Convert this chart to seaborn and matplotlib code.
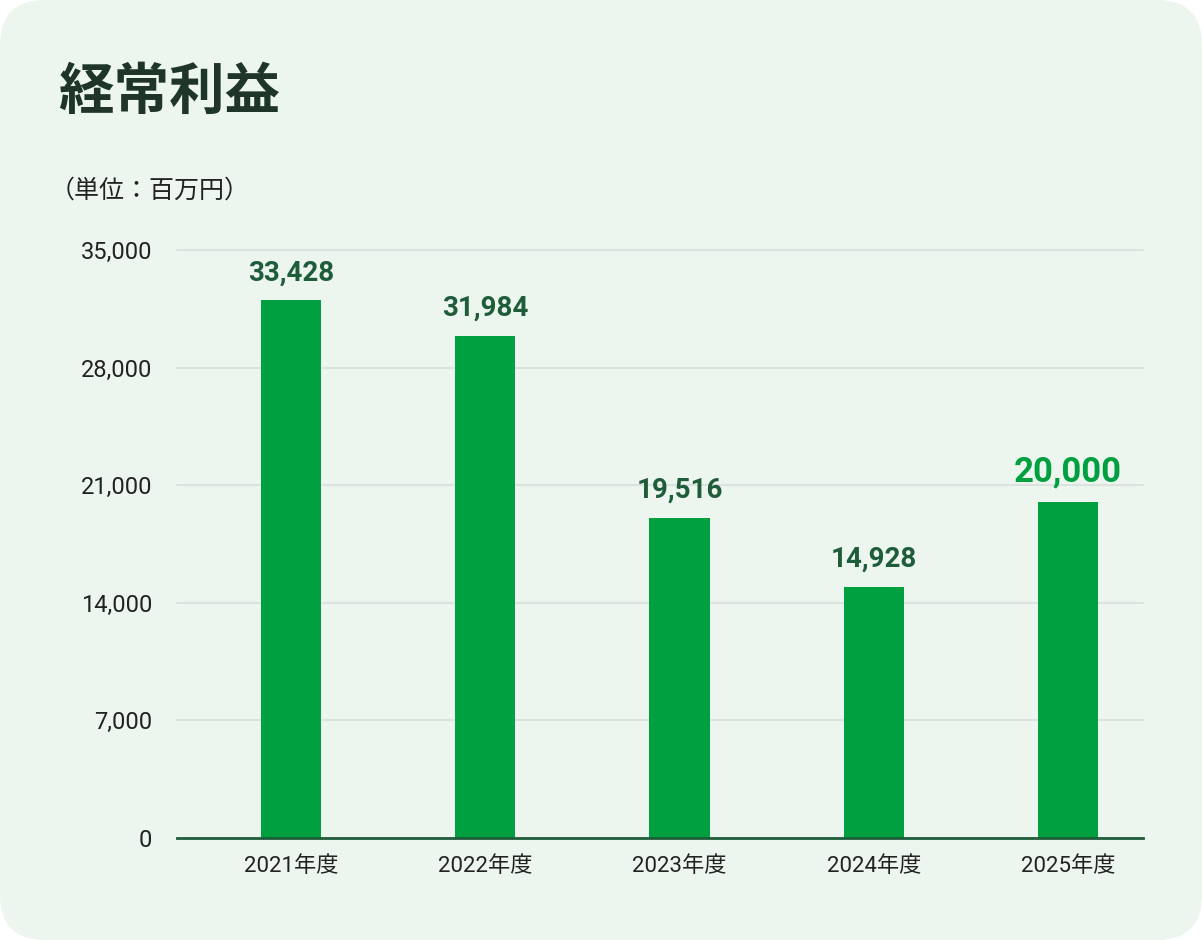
#!/usr/bin/env python3
import pandas as pd
import seaborn as sns
from matplotlib import pyplot as plt
from matplotlib.patches import FancyBboxPatch

# data
years = ["2021年度", "2022年度", "2023年度", "2024年度", "2025年度"]
bar_heights = [32000, 29870, 19040, 14928, 20000]
value_labels = ["33,428", "31,984", "19,516", "14,928", "20,000"]
y_ticks = [0, 7000, 14000, 21000, 28000, 35000]

BG = "#ECF6EE"
BAR = "#00A040"
DARK = "#1F5C3A"
TITLE = "#1E3527"
TEXT = "#222222"
FONTS = ["Roboto", "Noto Sans CJK JP", "DejaVu Sans"]


def main():
    sns.set_theme(style="white")
    plt.rcParams["font.family"] = FONTS

    fig = plt.figure(figsize=(12.02, 9.4), dpi=100, facecolor="white")
    bg = FancyBboxPatch((0, 0), 1202, 940, boxstyle="round,pad=0,rounding_size=45",
                        transform=None, facecolor=BG, edgecolor="none", zorder=-10)
    fig.add_artist(bg)

    ax = fig.add_axes([177 / 1202, 102 / 940, 966 / 1202, 588 / 940])
    ax.set_facecolor("none")

    df = pd.DataFrame({"year": years, "value": bar_heights})
    sns.barplot(data=df, x="year", y="value", color=BAR, saturation=1,
                width=0.31, linewidth=0, edgecolor="none", ax=ax, zorder=3)

    ax.set_ylim(0, 35000)
    ax.set_xlim(-0.587, 4.386)
    ax.set_yticks(y_ticks)
    ax.set_yticklabels([f"{t:,}" for t in y_ticks])
    ax.yaxis.grid(True, color="#DCE3DE", linewidth=1.5, zorder=0)
    ax.set_axisbelow(True)
    for t in ax.get_ygridlines():
        t.set_clip_on(False)
    ax.tick_params(axis="y", length=0, pad=18, labelsize=17, labelcolor=TEXT)
    ax.tick_params(axis="x", length=0, pad=13, labelsize=16, labelcolor=TEXT)
    ax.set_xlabel("")
    ax.set_ylabel("")
    for side in ("top", "left", "right"):
        ax.spines[side].set_visible(False)
    ax.spines["bottom"].set_color(DARK)
    ax.spines["bottom"].set_linewidth(2)
    ax.spines["bottom"].set_zorder(4)

    for i, (h, lab) in enumerate(zip(bar_heights, value_labels)):
        last = i == len(value_labels) - 1
        ax.annotate(lab, (i, h), xytext=(0, 14.5), textcoords="offset points",
                    ha="center", va="baseline", fontweight="bold",
                    fontsize=25 if last else 20,
                    color=BAR if last else DARK, zorder=5, annotation_clip=False)

    fig.text(58 / 1202, 1 - 93 / 940, "経常利益", fontsize=40, fontweight="bold",
             color=TITLE, va="center", ha="left",
             family=["Noto Sans CJK JP", "DejaVu Sans"])
    fig.text(50 / 1202, 1 - 191 / 940, "（単位：百万円）", fontsize=18,
             color=TEXT, va="center", ha="left",
             family=["Noto Sans CJK JP", "DejaVu Sans"])

    fig.savefig("out.png", dpi=100, facecolor="white")
    plt.close(fig)


if __name__ == "__main__":
    main()
